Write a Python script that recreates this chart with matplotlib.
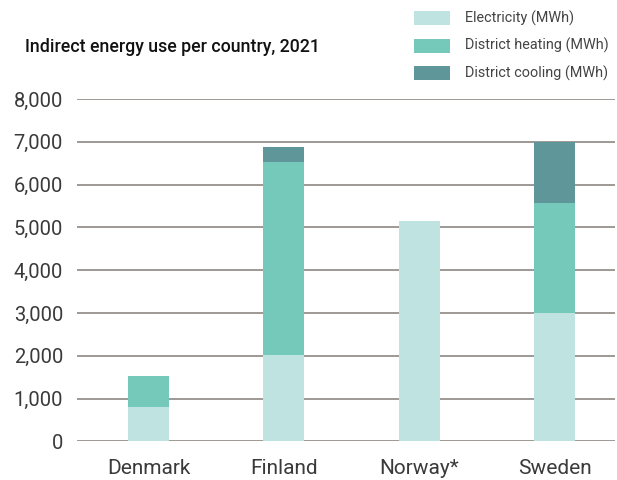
import matplotlib

matplotlib.use('Agg')
import matplotlib.pyplot as plt
from matplotlib.patches import Rectangle
import numpy as np

plt.rcParams['font.family'] = ['Roboto', 'DejaVu Sans']

countries = ['Denmark', 'Finland', 'Norway*', 'Sweden']
series_names = ['Electricity (MWh)', 'District heating (MWh)', 'District cooling (MWh)']
electricity = [790, 2020, 5150, 2990]
heating = [740, 4500, 0, 2580]
cooling = [0, 350, 0, 1420]
y_ticks = [0, 1000, 2000, 3000, 4000, 5000, 6000, 7000, 8000]

colors = ['#bfe3e0', '#74c9bb', '#5e9699']
grid_color = '#8e8782'
text_color = '#3a3a3a'

fig = plt.figure(figsize=(6.17, 4.80), dpi=100)
ax = fig.add_axes([77 / 617, 1 - 441.3 / 480, 538 / 617, (441.3 - 99) / 480])

x = np.arange(len(countries))
bottom = np.zeros(len(countries))
for values, color in zip([electricity, heating, cooling], colors):
    ax.bar(x, values, width=0.303, bottom=bottom, color=color, zorder=3, linewidth=0)
    bottom += np.array(values)

ax.set_ylim(0, 8000)
ax.set_xlim(-0.528, 3.447)
ax.set_yticks(y_ticks)
ax.set_yticklabels([f'{v:,}' for v in y_ticks])
ax.set_xticks(x)
ax.set_xticklabels(countries)
for v in y_ticks:
    ax.axhline(v, color=grid_color, linewidth=1.2, zorder=1)

for side in ['top', 'right', 'left', 'bottom']:
    ax.spines[side].set_visible(False)
ax.tick_params(axis='y', length=0, pad=10, labelsize=14.5, labelcolor=text_color)
ax.tick_params(axis='x', length=0, pad=13, labelsize=15, labelcolor=text_color)

fig.text(25 / 617, 1 - 47 / 480, 'Indirect energy use per country, 2021',
         fontsize=12.8, fontweight='medium', color='#111111', va='center', ha='left')

# legend drawn by hand in the top right corner
for i, (name, color) in enumerate(zip(series_names, colors)):
    yc = 18 + i * 27.5
    fig.patches.append(Rectangle((414 / 617, 1 - (yc + 7) / 480), 36 / 617, 14 / 480,
                                 transform=fig.transFigure, facecolor=color, edgecolor='none'))
    fig.text(465 / 617, 1 - yc / 480, name, fontsize=10.4, color='#444444',
             va='center', ha='left')

fig.savefig('out.png', dpi=100)
